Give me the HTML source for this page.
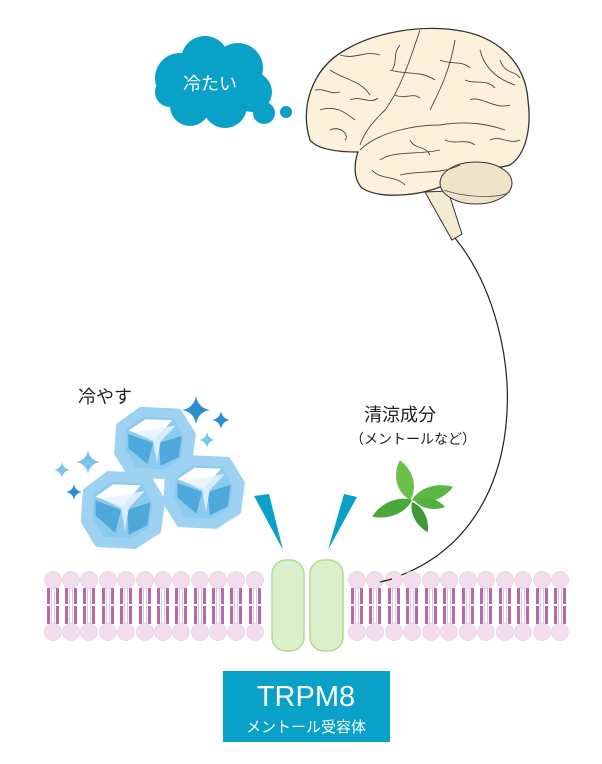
<!DOCTYPE html>
<html><head><meta charset="utf-8"><style>
html,body{margin:0;padding:0;background:#fff;}
svg{display:block;}
text{font-family:"Liberation Sans","Noto Sans CJK JP",sans-serif;}
</style></head><body>
<svg width="602" height="764" viewBox="0 0 602 764" xmlns="http://www.w3.org/2000/svg">
<defs>
<g id="lip">
<circle cx="0" cy="0" r="8.5" fill="#f3dcec" stroke="#e9d2e2" stroke-width="0.8"/>
<rect x="-6" y="8" width="3" height="16" fill="#b967aa"/>
<rect x="3" y="8" width="3" height="16" fill="#b967aa"/>
<rect x="-6" y="26" width="3" height="18" fill="#b967aa"/>
<rect x="3" y="26" width="3" height="18" fill="#b967aa"/>
<rect x="-2" y="8" width="1" height="36" fill="#d9c7e6"/>
<rect x="1" y="8" width="1" height="36" fill="#d9c7e6"/>
<circle cx="0" cy="52" r="8.5" fill="#f3dcec" stroke="#e9d2e2" stroke-width="0.8"/>
</g>
<g id="ice">
<polygon points="-38,-20 -15,-38 25,-36 40,-10 36,22 12,38 -26,36 -40,12" fill="#9dd2f2" stroke="#9dd2f2" stroke-width="6" stroke-linejoin="round"/>
<polygon points="-30,-16 -12,-30 20,-28 30,-6 27,18 8,30 -20,28 -31,8" fill="#8ccaee"/>
<polygon points="-28,-14 -10,-27 18,-26 0,-4" fill="#fff"/>
<polygon points="-28,-10 -2,0 -8,24 -28,6" fill="#4ea8dc"/>
<polygon points="4,0 28,-8 25,16 6,26" fill="#4ea8dc"/>
<polygon points="-22,-12 -2,-2 2,22 6,-2 22,-20" fill="#e4f3fc" opacity="0.85"/>
</g>
<g id="spark"><path d="M0,-10 Q1.5,-1.5 10,0 Q1.5,1.5 0,10 Q-1.5,1.5 -10,0 Q-1.5,-1.5 0,-10Z"/></g>
<g id="leaf"><path d="M0,0 C10,-12 30,-14 45,-6 C32,6 12,8 0,0Z"/></g>
</defs>

<!-- cloud -->
<g fill="#0aa1c9">
<circle cx="180" cy="78" r="25"/><circle cx="205" cy="60" r="24"/><circle cx="238" cy="68" r="25"/>
<circle cx="252" cy="92" r="20"/><circle cx="225" cy="106" r="22"/><circle cx="190" cy="106" r="20"/>
<circle cx="170" cy="92" r="15"/><circle cx="210" cy="85" r="26"/>
<circle cx="264" cy="113" r="11"/><circle cx="286" cy="112" r="6"/>
</g>
<text x="183" y="90" font-size="18" fill="#fff">冷たい</text>

<!-- brain -->
<path d="M310,140 C300,110 310,70 345,50 C375,32 420,25 455,30 C495,35 525,60 528,100 C532,130 525,155 510,165 C495,170 480,165 470,168 L440,187 C420,195 380,200 362,188 C352,178 355,160 358,152 C340,152 318,150 310,140 Z" fill="#fdf1dc" stroke="#333" stroke-width="1.3"/>
<polygon points="425,192 448,191 462,234 452,240" fill="#f5ead2" stroke="#333" stroke-width="1"/>
<ellipse cx="476" cy="183" rx="36" ry="21" fill="#efe3c8" stroke="#333" stroke-width="1"/>
<path d="M444,190 C460,196 495,200 510,192" fill="none" stroke="#555" stroke-width="0.8"/>
<g fill="none" stroke="#444" stroke-width="0.9">
<path d="M360,150 C380,130 420,125 440,125 C470,120 490,125 505,130"/>
<path d="M420,30 C410,60 400,90 385,110 C375,120 365,130 360,145"/>
<path d="M455,40 C450,70 440,90 430,110"/>
<path d="M330,70 C345,80 360,80 370,95"/>
<path d="M320,110 C335,105 345,112 355,120"/>
<path d="M480,50 C485,70 500,80 515,85"/>
<path d="M470,100 C480,95 495,110 510,105"/>
<path d="M380,160 C395,150 420,155 440,150"/>
<path d="M400,175 C420,170 440,175 460,165"/>
<path d="M340,55 C355,60 365,50 380,55"/>
<path d="M390,70 C405,75 420,70 435,80"/>
<path d="M330,130 C340,125 350,135 345,140"/>
<path d="M490,140 C500,135 510,145 520,140"/>
<path d="M315,90 C325,88 330,95 340,92"/>
<path d="M350,100 C360,95 370,105 378,98"/>
<path d="M395,95 C405,100 412,92 420,98"/>
<path d="M440,60 C450,65 462,60 470,68"/>
<path d="M465,80 C475,85 485,78 495,88"/>
<path d="M400,45 C392,55 398,62 392,70"/>
<path d="M445,140 C455,145 465,138 475,145"/>
<path d="M410,140 C415,150 425,145 430,155"/>
<path d="M500,60 C505,75 515,70 520,78"/>
<path d="M372,170 C380,180 395,175 405,185"/>
</g>

<!-- nerve curve -->
<path d="M455,238 C530,330 540,540 380,582" fill="none" stroke="#222" stroke-width="1.2"/>

<!-- texts -->
<text x="78" y="403" font-size="18" fill="#222">冷やす</text>
<text x="364" y="421" font-size="18" fill="#222">清涼成分</text>
<text x="350" y="444" font-size="14" fill="#222">（メントールなど）</text>

<!-- sparkles -->
<g fill="#2a8fd0">
<use href="#spark" transform="translate(196,410) scale(1.4)"/>
<use href="#spark" transform="translate(221,420) scale(0.9)"/>
<use href="#spark" transform="translate(74,492) scale(0.8)"/>
</g>
<g fill="#7cc4ec">
<use href="#spark" transform="translate(207,440) scale(0.8)"/>
<use href="#spark" transform="translate(88,462) scale(1.2)"/>
<use href="#spark" transform="translate(62,470) scale(0.8)"/>
</g>

<!-- ice cubes -->
<use href="#ice" transform="translate(155,443) scale(0.95,0.88)"/>
<use href="#ice" transform="translate(123,510) scale(0.98,0.95)"/>
<use href="#ice" transform="translate(204,492) scale(0.95,0.9)"/>

<!-- mint -->
<g>
<use href="#leaf" fill="#4aa83a" transform="translate(412,500) rotate(165) scale(0.95)"/>
<use href="#leaf" fill="#5cb845" transform="translate(412,500) rotate(-10) scale(0.95)"/>
<use href="#leaf" fill="#6cc04a" transform="translate(410,500) rotate(-95) scale(0.9,1.1)"/>
<use href="#leaf" fill="#3f9a35" transform="translate(412,502) rotate(70) scale(0.75)"/>
<use href="#leaf" fill="#55b040" transform="translate(414,500) rotate(20) scale(0.7)"/>
</g>

<!-- triangles -->
<polygon points="254,496 269,494 283,550" fill="#0aa1c9"/>
<polygon points="344,494 357,497 328,550" fill="#0aa1c9"/>

<!-- membrane -->
<g>
<use href="#lip" x="53" y="580"/><use href="#lip" x="71" y="580"/><use href="#lip" x="89" y="580"/>
<use href="#lip" x="108" y="580"/><use href="#lip" x="126" y="580"/><use href="#lip" x="145" y="580"/>
<use href="#lip" x="163" y="580"/><use href="#lip" x="181" y="580"/><use href="#lip" x="200" y="580"/>
<use href="#lip" x="218" y="580"/><use href="#lip" x="236" y="580"/><use href="#lip" x="255" y="580"/>
<use href="#lip" x="357" y="580"/><use href="#lip" x="375" y="580"/><use href="#lip" x="394" y="580"/>
<use href="#lip" x="412" y="580"/><use href="#lip" x="431" y="580"/><use href="#lip" x="449" y="580"/>
<use href="#lip" x="468" y="580"/><use href="#lip" x="486" y="580"/><use href="#lip" x="505" y="580"/>
<use href="#lip" x="523" y="580"/><use href="#lip" x="542" y="580"/><use href="#lip" x="560" y="580"/>
</g>
<path d="M380,582 C385,581 388,580 392,579" stroke="#222" stroke-width="1.2" fill="none"/>

<!-- channel -->
<rect x="272" y="560" width="32" height="91" rx="14" fill="#dcefcb" stroke="#b0da92" stroke-width="1.5"/>
<rect x="310" y="560" width="33" height="91" rx="14" fill="#dcefcb" stroke="#b0da92" stroke-width="1.5"/>

<!-- label box -->
<rect x="223" y="671" width="167" height="71" fill="#0aa1c9"/>
<text x="306" y="706" font-size="29" fill="#fff" text-anchor="middle">TRPM8</text>
<text x="306" y="732" font-size="15" fill="#fff" text-anchor="middle">メントール受容体</text>
</svg>
</body></html>
